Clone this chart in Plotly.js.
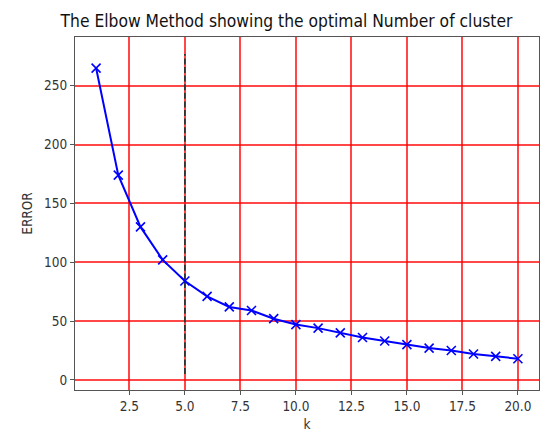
<!DOCTYPE html>
<html>
<head>
<meta charset="utf-8">
<script src="https://cdn.plot.ly/plotly-3.0.1.min.js"></script>
<style>
  html, body { margin: 0; padding: 0; background: #fff; }
  #chart { width: 557px; height: 441px; }
</style>
</head>
<body>
<div id="chart"></div>
<script>
// Data
const kValues = [1, 2, 3, 4, 5, 6, 7, 8, 9, 10, 11, 12, 13, 14, 15, 16, 17, 18, 19, 20];
const errorValues = [265, 174, 130, 102, 84, 71, 62, 59, 52, 47, 44, 40, 36, 33, 30, 27, 25, 22, 20, 18];
const optimalK = 5;
const optimalLineY = [5, 277];
const xTickVals = [2.5, 5, 7.5, 10, 12.5, 15, 17.5, 20];
const xTickText = ["2.5", "5.0", "7.5", "10.0", "12.5", "15.0", "17.5", "20.0"];
const yTickVals = [0, 50, 100, 150, 200, 250];
const yTickText = ["0", "50", "100", "150", "200", "250"];

const FONT = "'DejaVu Sans Condensed', 'DejaVu Sans', sans-serif";

const traces = [
  {
    x: [optimalK, optimalK],
    y: optimalLineY,
    mode: 'lines',
    line: { color: '#333', width: 1.8, dash: '6px,2.6px' },
    hoverinfo: 'skip',
    showlegend: false
  },
  {
    x: kValues,
    y: errorValues,
    mode: 'lines+markers',
    line: { color: '#0000ff', width: 2 },
    marker: { symbol: 'x-thin', size: 9, line: { color: '#0000ff', width: 1.6 }, color: '#0000ff' },
    showlegend: false
  }
];

const axisCommon = {
  showgrid: true,
  gridcolor: 'rgba(255,0,0,0.72)',
  gridwidth: 2,
  zeroline: false,
  showline: true,
  mirror: true,
  linecolor: '#555',
  linewidth: 1,
  ticks: 'outside',
  ticklen: 4,
  tickwidth: 1,
  tickcolor: '#555',
  tickfont: { family: FONT, size: 13.5, color: '#333' }
};

const layout = {
  width: 557,
  height: 441,
  margin: { l: 75, r: 18, t: 37, b: 51 },
  paper_bgcolor: '#fff',
  plot_bgcolor: '#fff',
  font: { family: FONT, color: '#222' },
  title: {
    text: 'The Elbow Method showing the optimal Number of cluster',
    font: { family: FONT, size: 17.3, color: '#111' },
    x: 286.5 / 557,
    xanchor: 'center',
    xref: 'container',
    y: 1 - 21 / 441,
    yanchor: 'middle',
    yref: 'container'
  },
  xaxis: Object.assign({}, axisCommon, {
    range: [0.05, 20.95],
    tickmode: 'array',
    tickvals: xTickVals,
    ticktext: xTickText,
    title: { text: 'k', font: { family: FONT, size: 13.5, color: '#333' }, standoff: 6 }
  }),
  yaxis: Object.assign({}, axisCommon, {
    range: [-8.6, 291.4],
    tickmode: 'array',
    tickvals: yTickVals,
    ticktext: yTickText,
    title: { text: 'ERROR', font: { family: FONT, size: 13.5, color: '#333' }, standoff: 8 }
  })
};

Plotly.newPlot('chart', traces, layout, { displayModeBar: false, staticPlot: true });
</script>
</body>
</html>
